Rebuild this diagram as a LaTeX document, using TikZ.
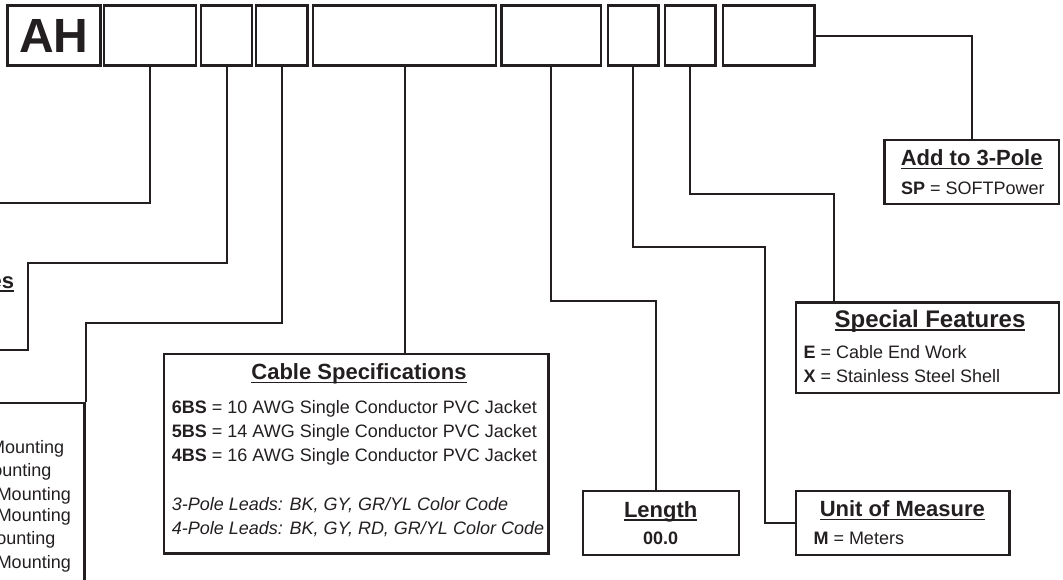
\documentclass[tikz,border=0pt]{standalone}
\usepackage{fontspec}
\setmainfont{Liberation Sans}
\definecolor{ink}{HTML}{231F20}
\newsavebox\headbox
\newcommand{\ulhead}[1]{\sbox\headbox{#1}\rlap{\rule[-3.6pt]{\wd\headbox}{1.4pt}}\usebox\headbox}
\tikzset{
  codebox/.style={draw=ink, line width=2.4pt, minimum height=60pt, inner sep=0pt},
  infobox/.style={draw=ink, line width=2.4pt, inner sep=0pt},
  lead/.style={draw=ink, line width=2pt},
  headtxt/.style={text=ink, font=\bfseries\fontsize{22}{26}\selectfont, inner sep=0pt, anchor=base},
  bodytxt/.style={text=ink, font=\fontsize{18}{24}\selectfont, inner sep=0pt, align=left},
}

\begin{document}
\begin{tikzpicture}[x=1pt, y=-1pt]
\useasboundingbox (0,0) rectangle (1063,579);
\clip (0,0) rectangle (1063,579);

% order code boxes
\node[codebox, minimum width=93pt, text=ink, font=\bfseries\fontsize{48}{48}\selectfont] (ah) at (54,35.5) {AH};
\node[codebox, minimum width=92pt] (b2) at (150,35.5) {};
\node[codebox, minimum width=51pt] (b3) at (226.5,35.5) {};
\node[codebox, minimum width=51.6pt] (b4) at (281.8,35.5) {};
\node[codebox, minimum width=183pt] (b5) at (404.7,35.5) {};
\node[codebox, minimum width=99.7pt] (b6) at (551.2,35.5) {};
\node[codebox, minimum width=50.6pt] (b7) at (633,35.5) {};
\node[codebox, minimum width=50.7pt] (b8) at (690.3,35.5) {};
\node[codebox, minimum width=91.6pt] (b9) at (768.5,35.5) {};

% option boxes
\node[infobox, minimum width=174.7pt, minimum height=64pt] (add) at (971.65,172) {};
\node[infobox, minimum width=263pt, minimum height=90.2pt] (spec) at (927.5,347.6) {};
\node[infobox, minimum width=213.3pt, minimum height=64pt] (unit) at (902.65,523) {};
\node[infobox, minimum width=156.3pt, minimum height=64pt] (len) at (660.85,523) {};
\node[infobox, minimum width=384.3pt, minimum height=199.3pt] (cable) at (356.15,453.65) {};
\node[infobox, minimum width=144.5pt, minimum height=217pt] (mountbox) at (12.25,511.5) {};
\node[inner sep=0pt, minimum width=88pt, minimum height=87pt] (esbox) at (-16,306.5) {};
\coordinate (cut2) at (-20,203);

% texts
\node[headtxt] (addhd) at (971.7,165.6) {\ulhead{Add to 3-Pole}};
\node[bodytxt, anchor=base west] (addtx) at (901,194.7) {\textbf{SP} = SOFTPower};

\node[headtxt, font=\bfseries\fontsize{24}{28}\selectfont] (spechd) at (930,327) {\ulhead{Special Features}};
\node[bodytxt, anchor=north west] (spectx) at (803.3,345) {\textbf{E} = Cable End Work\\\textbf{X} = Stainless Steel Shell};

\node[headtxt] (unithd) at (902.3,516.3) {\ulhead{Unit of Measure}};
\node[bodytxt, anchor=base west] (unittx) at (813.3,544.7) {\textbf{M} = Meters};

\node[headtxt] (lenhd) at (660.7,517.2) {\ulhead{Length}};
\node[bodytxt, anchor=base] (lentx) at (660.7,544.7) {\textbf{00.0}};

\node[headtxt] (cablehd) at (359,379.4) {\ulhead{Cable Specifications}};
\node[bodytxt, anchor=north west] (cabletx) at (171.7,400.1)
{\textbf{6BS} = 10 AWG Single Conductor PVC Jacket\\
\textbf{5BS} = 14 AWG Single Conductor PVC Jacket\\
\textbf{4BS} = 16 AWG Single Conductor PVC Jacket\\[25pt]
\textit{3-Pole Leads: BK, GY, GR/YL Color Code}\\
\textit{4-Pole Leads: BK, GY, RD, GR/YL Color Code}};

\node[headtxt, anchor=base east] (eshd) at (14.3,288) {\ulhead{es}};
\foreach \tx/\ty [count=\i] in {64.3/453.1, 51.7/476.4, 71/500.1, 71/521.4, 55.7/544.4, 71/568.1}
  \node[bodytxt, anchor=base east] (mount\i) at (\tx,\ty) {Mounting};

% leads
\draw[lead] (b2.south) |- (cut2);
\draw[lead] (b3.south) |- (esbox.north east) |- (esbox.south west);
\draw[lead] (b4.south) |- ([yshift=79pt]mountbox.north east) -- (mountbox.north east);
\draw[lead] (b5.south) -- (b5.south |- cable.north);
\draw[lead] (b6.south) |- ([xshift=-4.85pt,yshift=189.3pt]len.north) -- ([xshift=-4.85pt]len.north);
\draw[lead] (b7.south) |- ([xshift=-30.3pt,yshift=276.3pt]unit.west) |- (unit.west);
\draw[lead] (b8.south) |- ([xshift=-93.2pt,yshift=107.5pt]spec.north) -- ([xshift=-93.2pt]spec.north);
\draw[lead] (b9.east) -| (add.north);
\end{tikzpicture}
\end{document}
